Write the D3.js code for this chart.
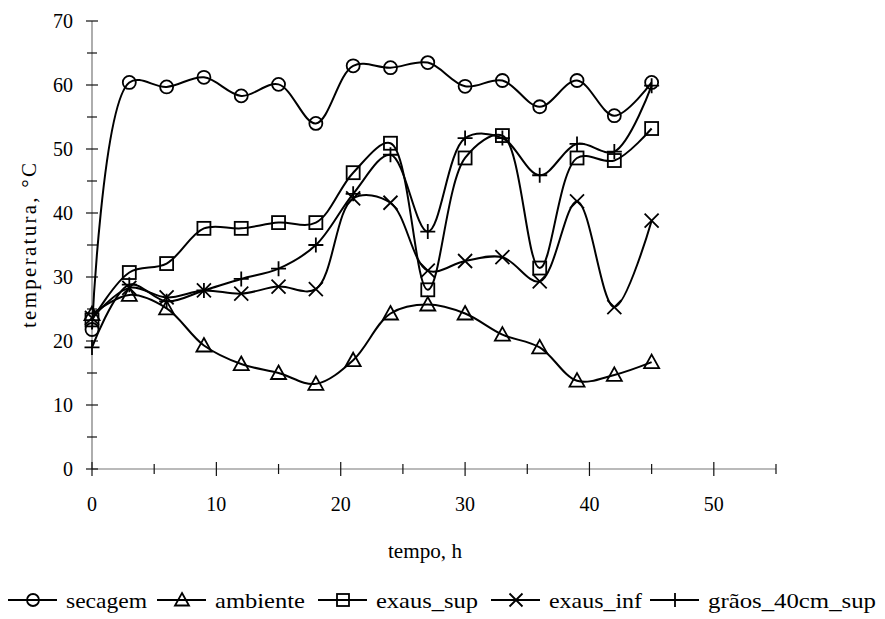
<!DOCTYPE html>
<html><head><meta charset="utf-8">
<script src="https://cdn.jsdelivr.net/npm/d3@7"></script>
<style>body{margin:0;background:#fff}svg{display:block}</style>
</head><body><svg id="c" width="885" height="619"></svg>
<script>
const hours = [0,3,6,9,12,15,18,21,24,27,30,33,36,39,42,45];
const secagem = [21.8,60.4,59.7,61.2,58.3,60.1,54.0,63.0,62.7,63.5,59.8,60.7,56.6,60.7,55.2,60.4];
const ambiente = [24.2,27.2,25.1,19.3,16.4,15.0,13.3,17.0,24.3,25.7,24.3,21.0,19.0,13.8,14.7,16.7];
const exaus_sup = [23.3,30.7,32.1,37.6,37.6,38.5,38.5,46.3,50.9,28.0,48.6,52.1,31.4,48.6,48.2,53.2];
const exaus_inf = [23.6,28.3,26.8,27.9,27.4,28.5,28.1,42.3,41.6,31.0,32.5,33.1,29.3,41.8,25.3,38.8];
const graos_40cm_sup = [19.0,28.8,26.2,27.9,29.7,31.3,35.0,43.0,49.1,37.1,51.7,51.7,45.9,50.8,49.6,59.9];
const seriesNames = ["secagem","ambiente","exaus_sup","exaus_inf","grãos_40cm_sup"];
const seriesMarkers = ["circle","triangle","square","x","plus"];
const seriesValues = [secagem, ambiente, exaus_sup, exaus_inf, graos_40cm_sup];
const xTicks = [0,10,20,30,40,50];
const xMinorTicks = [5,15,25,35,45,55];
const yTicks = [0,10,20,30,40,50,60,70];
const yMinorTicks = [5,15,25,35,45,55,65];
const xTitle = "tempo, h";
const yTitle = "temperatura, °C";

const FONT = "Liberation Serif";
const svg = d3.select("#c");
const x = d3.scaleLinear().domain([0,55]).range([92,776]);
const y = d3.scaleLinear().domain([0,70]).range([469,21]);

function txt(g){ return g.append("text").attr("fill","#000").style("font-family",FONT); }

// axes
const ax = svg.append("g");
ax.append("line").attr("x1",x(0)).attr("x2",x(55)).attr("y1",y(0)).attr("y2",y(0)).attr("stroke","#777").attr("stroke-width",1.2);
ax.append("line").attr("x1",x(0)).attr("x2",x(0)).attr("y1",y(0)).attr("y2",y(70)).attr("stroke","#777").attr("stroke-width",1.2);
xTicks.forEach(t=>{ax.append("line").attr("x1",x(t)).attr("x2",x(t)).attr("y1",y(0)-7).attr("y2",y(0)+7).attr("stroke","#111").attr("stroke-width",1.2);
  txt(ax).attr("x",x(t)).attr("y",511).attr("text-anchor","middle").attr("font-size",20).text(t);});
xMinorTicks.forEach(t=>{ax.append("line").attr("x1",x(t)).attr("x2",x(t)).attr("y1",y(0)-5).attr("y2",y(0)+5).attr("stroke","#111").attr("stroke-width",1.2);});
yTicks.forEach(t=>{ax.append("line").attr("x1",x(0)-6).attr("x2",x(0)+6).attr("y1",y(t)).attr("y2",y(t)).attr("stroke","#111").attr("stroke-width",1.2);
  txt(ax).attr("x",73).attr("y",y(t)+7).attr("text-anchor","end").attr("font-size",20).text(t);});
yMinorTicks.forEach(t=>{ax.append("line").attr("x1",x(0)-5).attr("x2",x(0)+5).attr("y1",y(t)).attr("y2",y(t)).attr("stroke","#111").attr("stroke-width",1.2);});

txt(svg).attr("x",425).attr("y",558).attr("text-anchor","middle").attr("font-size",21).attr("textLength",74).attr("lengthAdjust","spacingAndGlyphs").text(xTitle);
txt(svg).attr("transform","translate(36,245.5) rotate(-90)").attr("text-anchor","middle").attr("font-size",21)
  .attr("textLength",165).attr("lengthAdjust","spacing").text(yTitle);

function marker(g, type, cx, cy, s){
  s = s || 6.5;
  let el;
  if(type==="circle") el = g.append("circle").attr("cx",cx).attr("cy",cy).attr("r",s);
  else if(type==="square") el = g.append("rect").attr("x",cx-s).attr("y",cy-s).attr("width",2*s).attr("height",2*s);
  else if(type==="triangle") el = g.append("path").attr("d",`M${cx},${cy-s-1}L${cx+s+1},${cy+s-0.5}L${cx-s-1},${cy+s-0.5}Z`);
  else if(type==="x") el = g.append("path").attr("d",`M${cx-s-0.5},${cy-s-0.5}L${cx+s+0.5},${cy+s+0.5}M${cx-s-0.5},${cy+s+0.5}L${cx+s+0.5},${cy-s-0.5}`);
  else el = g.append("path").attr("d",`M${cx-s-1},${cy}L${cx+s+1},${cy}M${cx},${cy-s-1}L${cx},${cy+s+1}`);
  el.attr("stroke","#000").attr("stroke-width",1.8).attr("fill","none");
}

const line = d3.line().x((d,i)=>x(hours[i])).y(d=>y(d)).curve(d3.curveCatmullRom.alpha(0.5));
seriesValues.forEach((vals,si)=>{
  const g = svg.append("g");
  g.append("path").attr("d",line(vals)).attr("fill","none").attr("stroke","#000").attr("stroke-width",2);
  vals.forEach((v,i)=>marker(g, seriesMarkers[si], x(hours[i]), y(v)));
});

// legend
const legX = [8,157,318,491,650];
const legW = [81,90,102,93,168];
const lg = svg.append("g");
seriesNames.forEach((n,i)=>{
  const x0 = legX[i];
  lg.append("line").attr("x1",x0).attr("x2",x0+49).attr("y1",600).attr("y2",600).attr("stroke","#000").attr("stroke-width",2);
  marker(lg, seriesMarkers[i], x0+25, 600, 6);
  txt(lg).attr("x",x0+58).attr("y",608).attr("font-size",21)
    .attr("textLength",legW[i]).attr("lengthAdjust","spacingAndGlyphs").text(n);
});
</script></body></html>
